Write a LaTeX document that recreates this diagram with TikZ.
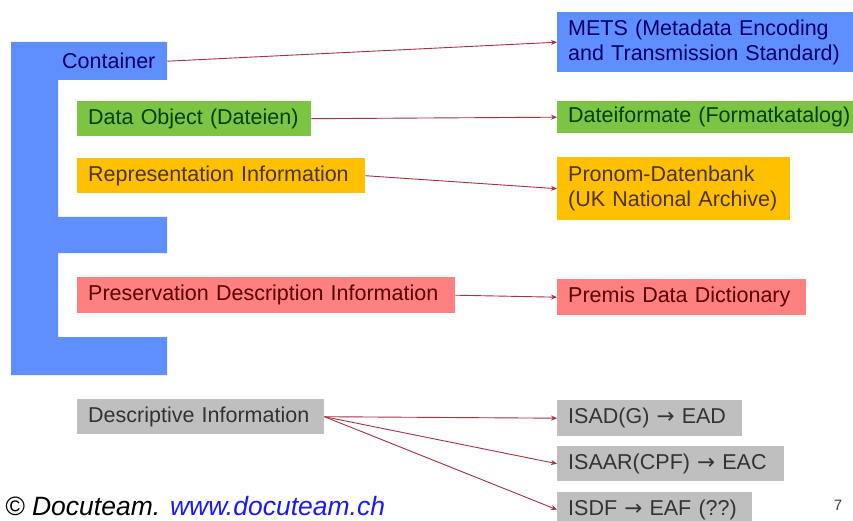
\documentclass[tikz,border=0pt]{standalone}
\usepackage{fontspec}
\setmainfont{Liberation Sans}
\newfontfamily\arrowfont{DejaVu Sans}
\usetikzlibrary{arrows.meta}
\definecolor{oaisblue}{RGB}{95,143,255}
\definecolor{oaisgreen}{RGB}{125,196,68}
\definecolor{oaisorange}{RGB}{255,192,0}
\definecolor{oaisred}{RGB}{255,128,128}
\definecolor{oaisgrey}{RGB}{191,191,191}
\definecolor{linkred}{RGB}{168,48,63}
\newcommand{\goesto}{{\arrowfont →}}
\tikzset{
  box/.style={anchor=north west, inner xsep=11pt, inner ysep=0pt, align=left,
    font=\fontsize{21.5}{25}\selectfont},
  bluebox/.style={box, fill=oaisblue, text=blue!40!black},
  greenbox/.style={box, fill=oaisgreen, text=green!25!black},
  orangebox/.style={box, fill=oaisorange, text=brown!40!black},
  redbox/.style={box, fill=oaisred, text=red!35!black},
  greybox/.style={box, fill=oaisgrey, text=black!80},
  link/.style={draw=linkred, line width=0.9pt, -{Stealth[length=6pt,width=5pt]}}
}
\begin{document}
\begin{tikzpicture}[x=1pt,y=-1pt]
\useasboundingbox (0,0) rectangle (853,521);
\clip (0,0) rectangle (853,521);
\fill[oaisblue] (11,42) -- (167,42) -- (167,80) -- (58,80) -- (58,217) -- (167,217)
  -- (167,253) -- (58,253) -- (58,337) -- (167,337) -- (167,375) -- (11,375) -- cycle;
\node[box, text=blue!40!black, inner xsep=4pt, text width=101pt, minimum height=38pt] (container) at (58,42) {Container};
\node[greenbox, text width=212pt, minimum height=35pt] (dobj) at (77,101) {Data Object (Dateien)};
\node[orangebox, text width=266pt, minimum height=35pt] (repinfo) at (77,158) {Representation Information};
\node[redbox, text width=356pt, minimum height=36pt] (pdi) at (77,277) {Preservation Description Information};
\node[greybox, text width=225pt, minimum height=35pt] (descinfo) at (77,399) {Descriptive Information};
\node[bluebox, text width=320pt, minimum height=60pt] (mets) at (557,12) {METS (Metadata Encoding\\and Transmission Standard)};
\node[greenbox, text width=320pt, minimum height=32pt] (dfmt) at (557,101) {Dateiformate (Formatkatalog)};
\node[orangebox, text width=211pt, minimum height=63pt] (pronom) at (557,157) {Pronom-Datenbank\\(UK National Archive)};
\node[redbox, text width=227pt, minimum height=36pt] (premis) at (557,279) {Premis Data Dictionary};
\node[greybox, text width=163pt, minimum height=36pt] (isad) at (557,400) {ISAD(G) \goesto{} EAD};
\node[greybox, text width=205pt, minimum height=35pt] (isaar) at (557,446) {ISAAR(CPF) \goesto{} EAC};
\node[greybox, text width=173pt, minimum height=35pt] (isdf) at (557,492) {ISDF \goesto{} EAF (??)};
\draw[link] (container.east) -- (mets.west);
\draw[link] (dobj.east) -- (dfmt.west);
\draw[link] (repinfo.east) -- (pronom.west);
\draw[link] (pdi.east) -- (premis.west);
\foreach \t in {isad,isaar,isdf} \draw[link] (descinfo.east) -- (\t.west);
\node[anchor=base west, inner sep=0pt, font=\fontsize{26.5}{30}\selectfont\itshape] (copy) at (5,515)
  {© Docuteam. \textcolor{blue!90!white}{www.docuteam.ch}};
\node[font=\fontsize{15}{17}\selectfont, text=black!75] (page) at (838,505) {7};
\end{tikzpicture}
\end{document}
